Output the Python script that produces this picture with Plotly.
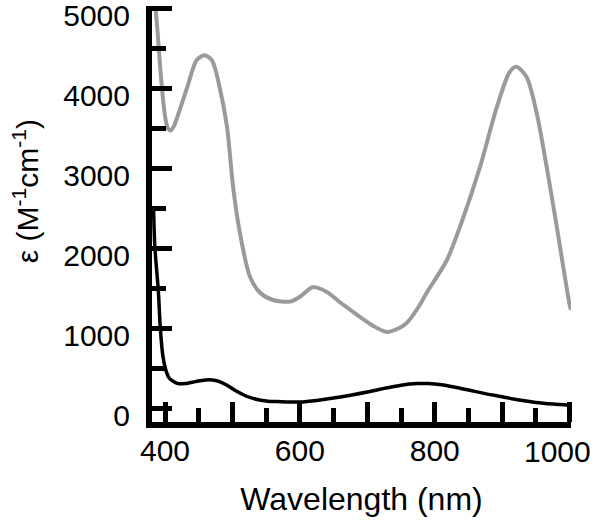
import plotly.graph_objects as go

# Gray spectrum (nm, M^-1 cm^-1)
gray_wl = [386, 389, 392, 396, 400, 404, 408, 413, 420, 433, 447, 459, 470, 481, 492, 501, 511, 526, 541,
           560, 585, 600, 619, 640, 659, 689, 710, 729, 745, 758, 775, 788, 818, 841, 867, 892, 911, 921,
           936, 951, 966, 981, 1000, 1002]
gray_eps = [5000, 4700, 4350, 3950, 3650, 3500, 3470, 3520, 3680, 4010, 4350, 4410, 4340, 4010, 3510, 2760,
            2190, 1640, 1440, 1350, 1330, 1390, 1510, 1450, 1325, 1140, 1020, 950, 990, 1060, 1250, 1440,
            1850, 2350, 3010, 3760, 4200, 4265, 4140, 3690, 3010, 2260, 1290, 1230]

# Black spectrum
black_wl = [383, 385, 390, 393, 397, 401, 405, 410, 419, 430, 445, 455, 465, 475, 485, 495, 505, 520, 535,
            550, 565, 580, 600, 625, 650, 675, 700, 725, 750, 775, 790, 810, 830, 850, 875, 900, 925, 950,
            975, 1000]
black_eps = [2500, 2000, 1480, 1000, 640, 480, 390, 345, 305, 305, 330, 345, 352, 343, 315, 270, 215, 150,
             110, 88, 80, 75, 75, 95, 125, 160, 200, 245, 285, 305, 305, 290, 260, 225, 180, 140, 100, 70,
             50, 35]

x_tickvals = [400, 500, 600, 700, 800, 900, 1000]
x_ticktext = ["400", "", "600", "", "800", "", ""]
x_last_label = "1000"
y_tickvals = [0, 1000, 2000, 3000, 4000, 5000]
y_ticktext = ["0", "1000", "2000", "3000", "4000", "5000"]

FONT = "Liberation Sans, Arial, Helvetica, sans-serif"

fig = go.Figure()
fig.add_trace(go.Scatter(x=gray_wl, y=gray_eps, mode="lines",
                         line=dict(color="#9a9a9a", width=4, shape="spline", smoothing=0.8),
                         showlegend=False, hoverinfo="skip"))
fig.add_trace(go.Scatter(x=black_wl, y=black_eps, mode="lines",
                         line=dict(color="black", width=3.5, shape="spline", smoothing=0.8),
                         showlegend=False, hoverinfo="skip"))

fig.update_layout(
    width=600, height=521,
    margin=dict(l=152, r=29, t=6, b=99, autoexpand=False),
    paper_bgcolor="white", plot_bgcolor="white",
    font=dict(family=FONT, size=30, color="black"),
    showlegend=False,
)
fig.update_xaxes(
    range=[380.7, 1002], showgrid=False, zeroline=False, automargin=False,
    showline=True, linecolor="black", linewidth=6,
    ticks="inside", ticklen=20, tickwidth=5, tickcolor="black",
    tickmode="array", tickvals=x_tickvals, ticktext=x_ticktext,
    tickfont=dict(family=FONT, size=30), ticklabeloverflow="allow",
    ticklabelstandoff=-3,
    minor=dict(ticks="inside", dtick=50, tick0=0, ticklen=14, tickwidth=5, tickcolor="black", showgrid=False),
    title=dict(text="Wavelength (nm)", font=dict(family=FONT, size=32), standoff=24),
)
fig.update_yaxes(
    range=[-175, 5025], showgrid=False, zeroline=False, automargin=False,
    showline=True, linecolor="black", linewidth=6,
    ticks="inside", ticklen=20, tickwidth=5, tickcolor="black",
    tickmode="array", tickvals=y_tickvals, ticktext=y_ticktext,
    tickfont=dict(family=FONT, size=30), ticklabeloverflow="allow",
    ticklabelstandoff=10, ticklabelshift=7,
    minor=dict(ticks="inside", dtick=500, tick0=0, ticklen=14, tickwidth=5, tickcolor="black", showgrid=False),
)
# last x tick label, nudged left as in the reference
fig.add_annotation(
    text=x_last_label, xref="x", yref="paper", x=x_tickvals[-1], y=-0.072,
    xanchor="center", yanchor="middle", xshift=-12, showarrow=False,
    font=dict(family=FONT, size=30, color="black"),
)
fig.add_annotation(
    text="ε (M<sup>-1</sup>cm<sup>-1</sup>)", textangle=-90,
    xref="paper", yref="paper", x=-0.302, y=0.556,
    xanchor="center", yanchor="middle", showarrow=False,
    font=dict(family=FONT, size=30, color="black"),
)

fig.write_html("out.html", config={"displayModeBar": False},
               post_script="document.body.style.margin='0';")
